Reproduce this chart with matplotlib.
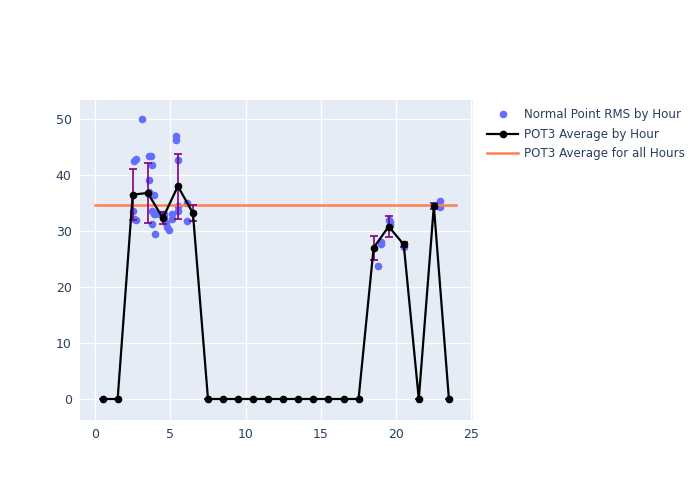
import numpy as np
import matplotlib.pyplot as plt
from matplotlib.lines import Line2D

# 各小时的散点（Normal Point RMS）
pt_hour = [2.6, 2.6, 2.7, 2.5, 2.7, 3.1, 3.6, 3.7, 3.6, 3.6, 3.8, 3.9, 3.8, 3.9, 3.9,
           3.8, 4.0, 4.3, 4.6, 4.6, 4.7, 4.9, 4.8, 5.1, 5.1, 5.4, 5.4, 5.5, 5.5, 5.5,
           6.1, 6.1, 4.0, 18.8, 19.0, 19.0, 19.5, 19.6, 19.6, 20.5, 22.9, 22.9]
pt_rms = [32.1, 42.5, 42.8, 33.5, 32.0, 50.0, 43.4, 43.4, 39.1, 37.0, 41.8, 36.5, 33.5, 33.2, 33.0,
          31.2, 29.4, 33.0, 33.0, 32.4, 31.5, 30.1, 30.8, 33.0, 32.2, 46.9, 46.2, 42.7, 34.5, 33.5,
          35.0, 31.8, 33.1, 23.7, 28.0, 27.7, 32.0, 31.6, 31.0, 27.1, 35.4, 34.3]

# 每小时平均值及误差
hours = np.arange(0.5, 24, 1.0)
avg = [0, 0, 36.5, 36.8, 32.3, 38.0, 33.2, 0, 0, 0, 0, 0, 0, 0, 0, 0, 0, 0,
       27.0, 30.8, 27.6, 0, 34.5, 0]
err = [0, 0, 4.5, 5.4, 1.1, 5.8, 1.4, 0, 0, 0, 0, 0, 0, 0, 0, 0, 0, 0,
       2.2, 1.8, 0.5, 0, 0.5, 0]
overall_avg = 34.6

fig = plt.figure(figsize=(7, 5), dpi=100)
ax = fig.add_axes([80/700, 80/500, 393/700, 320/500])
ax.set_facecolor('#E5ECF6')
ax.grid(color='white', linewidth=1)
ax.set_axisbelow(True)
for s in ax.spines.values():
    s.set_visible(False)

ax.scatter(pt_hour, pt_rms, s=20, color='#636efa', zorder=2)
ax.errorbar(hours, avg, yerr=err, color='black', ecolor='purple', elinewidth=1.2, capsize=3,
            capthick=1.2, marker='o', markersize=4.5, linewidth=1.6, zorder=3)
ax.plot([0, 24], [overall_avg, overall_avg], color='#FF7F50', linewidth=1.8, zorder=2.5)

ax.set_xlim(-1, 25.1)
ax.set_ylim(-3.75, 53.4)
ax.set_xticks([0, 5, 10, 15, 20, 25])
ax.set_yticks([0, 10, 20, 30, 40, 50])
ax.tick_params(length=0, labelsize=9, colors='#2a3f5f', pad=6)

# 图例手动构建，顺序与原图一致
handles = [
    Line2D([], [], linestyle='none', marker='o', markersize=4.5, color='#636efa'),
    Line2D([], [], color='black', marker='o', markersize=4.5, linewidth=1.6),
    Line2D([], [], color='#FF7F50', linewidth=1.8),
]
labels = ['Normal Point RMS by Hour', 'POT3 Average by Hour', 'POT3 Average for all Hours']
ax.legend(handles, labels, loc='upper left', bbox_to_anchor=(1.015, 1.0), frameon=False,
          fontsize=8.6, labelcolor='#2a3f5f', handlelength=2.6, handletextpad=0.5,
          labelspacing=0.55, borderaxespad=0.3)
plt.savefig('out.png')
